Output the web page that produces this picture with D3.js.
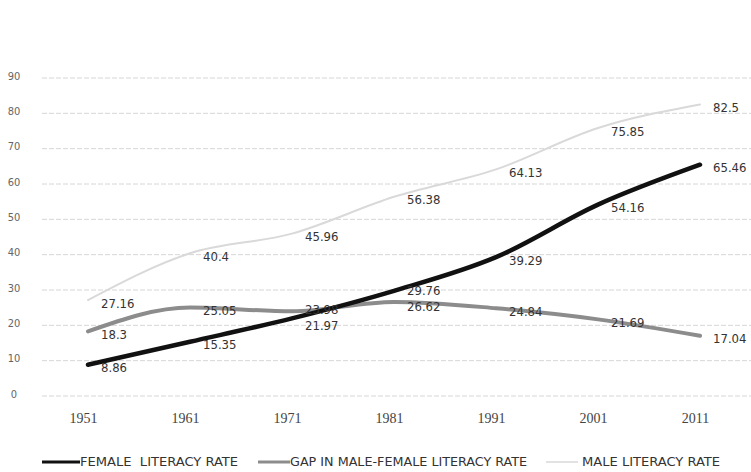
<!DOCTYPE html>
<html>
<head>
<meta charset="utf-8">
<script src="https://cdn.jsdelivr.net/npm/d3@7"></script>
<style>
  body { margin: 0; background: #fff; }
  svg { display: block; }
  text { font-family: "DejaVu Sans Condensed", "DejaVu Sans", sans-serif; }
</style>
</head>
<body>
<svg id="chart" width="751" height="472"></svg>
<script>
const years = ["1951", "1961", "1971", "1981", "1991", "2001", "2011"];
const femaleRate = [8.86, 15.35, 21.97, 29.76, 39.29, 54.16, 65.46];
const gapRate = [18.3, 25.05, 23.98, 26.62, 24.84, 21.69, 17.04];
const maleRate = [27.16, 40.4, 45.96, 56.38, 64.13, 75.85, 82.5];
const yTicks = [0, 10, 20, 30, 40, 50, 60, 70, 80, 90];
const legendLabels = ["FEMALE  LITERACY RATE", "GAP IN MALE-FEMALE LITERACY RATE", "MALE LITERACY RATE"];

const svg = d3.select('#chart');

const x = d3.scalePoint().domain(years).range([88, 700]);
const y = d3.scaleLinear().domain([0, 90]).range([396, 78]);

// gridlines
svg.append('g').selectAll('line')
	.data(yTicks)
	.enter().append('line')
		.attr('x1', 42)
		.attr('x2', 751)
		.attr('y1', d => y(d))
		.attr('y2', d => y(d))
		.attr('stroke', '#d6d6d6')
		.attr('stroke-width', 1)
		.attr('stroke-dasharray', '5,2');

// y axis labels
const yAxis = svg.append('g')
	.attr('transform', 'translate(24,0)')
	.call(d3.axisLeft(y).tickValues(yTicks).tickSize(0).tickPadding(0));
yAxis.select('.domain').remove();
yAxis.selectAll('text')
	.attr('font-size', 11)
	.attr('fill', '#666')
	.attr('text-anchor', 'middle')
	.attr('dx', -10)
	.attr('dy', '0.1em');

// x axis labels
const xAxis = svg.append('g')
	.attr('transform', 'translate(-5,413)')
	.call(d3.axisBottom(x).tickSize(0).tickPadding(0));
xAxis.select('.domain').remove();
xAxis.selectAll('text')
	.attr('font-size', 14)
	.attr('fill', '#444')
	.style('font-family', '"Liberation Serif", serif');

// label nudges keep the crowded 1971/1981 labels just apart
const series = [
	{ name: legendLabels[1], values: gapRate, color: '#8c8c8c', width: 4, nudge: [0, 0, -5, 2, 0, 0, 0] },
	{ name: legendLabels[2], values: maleRate, color: '#d9d9d9', width: 2, nudge: [0, 0, 0, 0, 0, 0, 0] },
	{ name: legendLabels[0], values: femaleRate, color: '#111', width: 4.5, nudge: [0, 0, 4, -3, 0, 0, 0] }
];

const line = d3.line()
	.x((d, i) => x(years[i]))
	.y(d => y(d))
	.curve(d3.curveMonotoneX);

svg.append('g').selectAll('path')
	.data(series)
	.enter().append('path')
		.attr('d', d => line(d.values))
		.attr('fill', 'none')
		.attr('stroke', d => d.color)
		.attr('stroke-width', d => d.width)
		.attr('stroke-linecap', 'round');

// data labels
series.forEach(s => {
	svg.append('g').selectAll('text')
		.data(s.values)
		.enter().append('text')
			.attr('x', (d, i) => x(years[i]) + 13)
			.attr('y', (d, i) => y(d) + 3 + s.nudge[i])
			.attr('dy', '0.35em')
			.attr('font-size', 13)
			.attr('fill', '#333')
			.text(d => d);
});

// legend
const legendItems = [
	{ label: legendLabels[0], color: '#111', width: 3, x0: 42, x1: 80, tx: 80, len: 158 },
	{ label: legendLabels[1], color: '#8c8c8c', width: 3, x0: 258, x1: 290, tx: 290, len: 237 },
	{ label: legendLabels[2], color: '#d9d9d9', width: 1.5, x0: 546, x1: 578, tx: 582, len: 138 }
];
const legend = svg.append('g').selectAll('g')
	.data(legendItems)
	.enter().append('g');
legend.append('line')
	.attr('x1', d => d.x0)
	.attr('x2', d => d.x1)
	.attr('y1', 462)
	.attr('y2', 462)
	.attr('stroke', d => d.color)
	.attr('stroke-width', d => d.width);
legend.append('text')
	.attr('x', d => d.tx)
	.attr('y', 462)
	.attr('dy', '0.35em')
	.attr('font-size', 12)
	.attr('fill', '#333')
	.attr('textLength', d => d.len)
	.attr('lengthAdjust', 'spacingAndGlyphs')
	.style('white-space', 'pre')
	.text(d => d.label);
</script>
</body>
</html>
